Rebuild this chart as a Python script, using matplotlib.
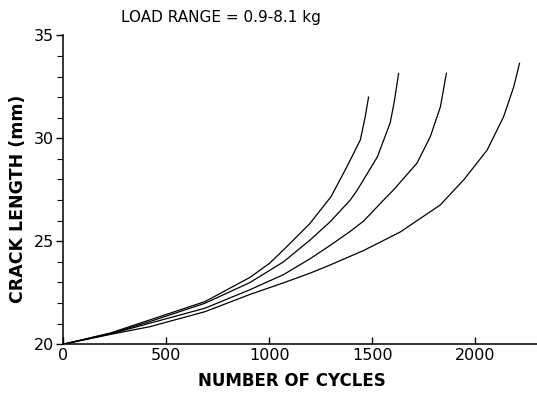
import matplotlib
matplotlib.use("Agg")
import matplotlib.pyplot as plt
from matplotlib.ticker import MultipleLocator

# --- data ---
cycles1 = [0, 230, 420, 688, 907, 1000, 1069, 1198, 1300, 1377, 1442, 1466, 1482]
crack1 = [20, 20.55, 21.18, 22.07, 23.25, 23.92, 24.58, 25.87, 27.17, 28.62, 29.92, 31.05, 32.0]

cycles2 = [0, 230, 420, 688, 907, 1069, 1198, 1296, 1393, 1425, 1525, 1587, 1607, 1628]
crack2 = [20, 20.52, 21.1, 21.99, 23.0, 24.0, 25.06, 25.95, 27.0, 27.45, 29.1, 30.75, 31.78, 33.15]

cycles3 = [0, 230, 420, 688, 907, 1069, 1198, 1296, 1393, 1458, 1555, 1603, 1717, 1782, 1831, 1860]
crack3 = [20, 20.5, 21.02, 21.75, 22.65, 23.38, 24.15, 24.8, 25.48, 25.98, 27.0, 27.49, 28.79, 30.08, 31.53, 33.16]

cycles4 = [0, 230, 420, 688, 907, 1069, 1198, 1296, 1458, 1636, 1830, 1944, 2058, 2138, 2187, 2215]
crack4 = [20, 20.48, 20.85, 21.58, 22.42, 22.98, 23.45, 23.85, 24.55, 25.45, 26.76, 27.98, 29.43, 31.05, 32.5, 33.64]

series = [(cycles1, crack1), (cycles2, crack2), (cycles3, crack3), (cycles4, crack4)]

x_ticks = [0, 500, 1000, 1500, 2000]
y_ticks = [20, 25, 30, 35]

fig = plt.figure(figsize=(5.37, 3.97), dpi=100)
ax = fig.add_axes([0.118, 0.133, 0.882, 0.778])

for cx, cy in series:
    ax.plot(cx, cy, color="black", lw=0.9, solid_joinstyle="round")

ax.set_xlim(0, 2300)
ax.set_ylim(20, 35)
ax.set_xticks(x_ticks)
ax.set_yticks(y_ticks)
ax.yaxis.set_minor_locator(MultipleLocator(1))

for s in ["top", "right"]:
    ax.spines[s].set_visible(False)
for s in ["left", "bottom"]:
    ax.spines[s].set_linewidth(1.1)

ax.tick_params(axis="x", direction="in", length=5, width=1, pad=3, labelsize=11.5)
ax.tick_params(axis="y", which="major", direction="out", length=5, width=1, pad=2, labelsize=11.5)
ax.tick_params(axis="y", which="minor", direction="out", length=4, width=0.8)

fig.text(0.412, 0.957, "LOAD RANGE = 0.9-8.1 kg", ha="center", va="center", fontsize=11)
fig.text(0.034, 0.5, "CRACK LENGTH (mm)", rotation=90, ha="center", va="center",
         fontsize=12.5, fontweight="bold")
fig.text(0.544, 0.04, "NUMBER OF CYCLES", ha="center", va="center",
         fontsize=12, fontweight="bold")

fig.savefig("out.png", dpi=100)
